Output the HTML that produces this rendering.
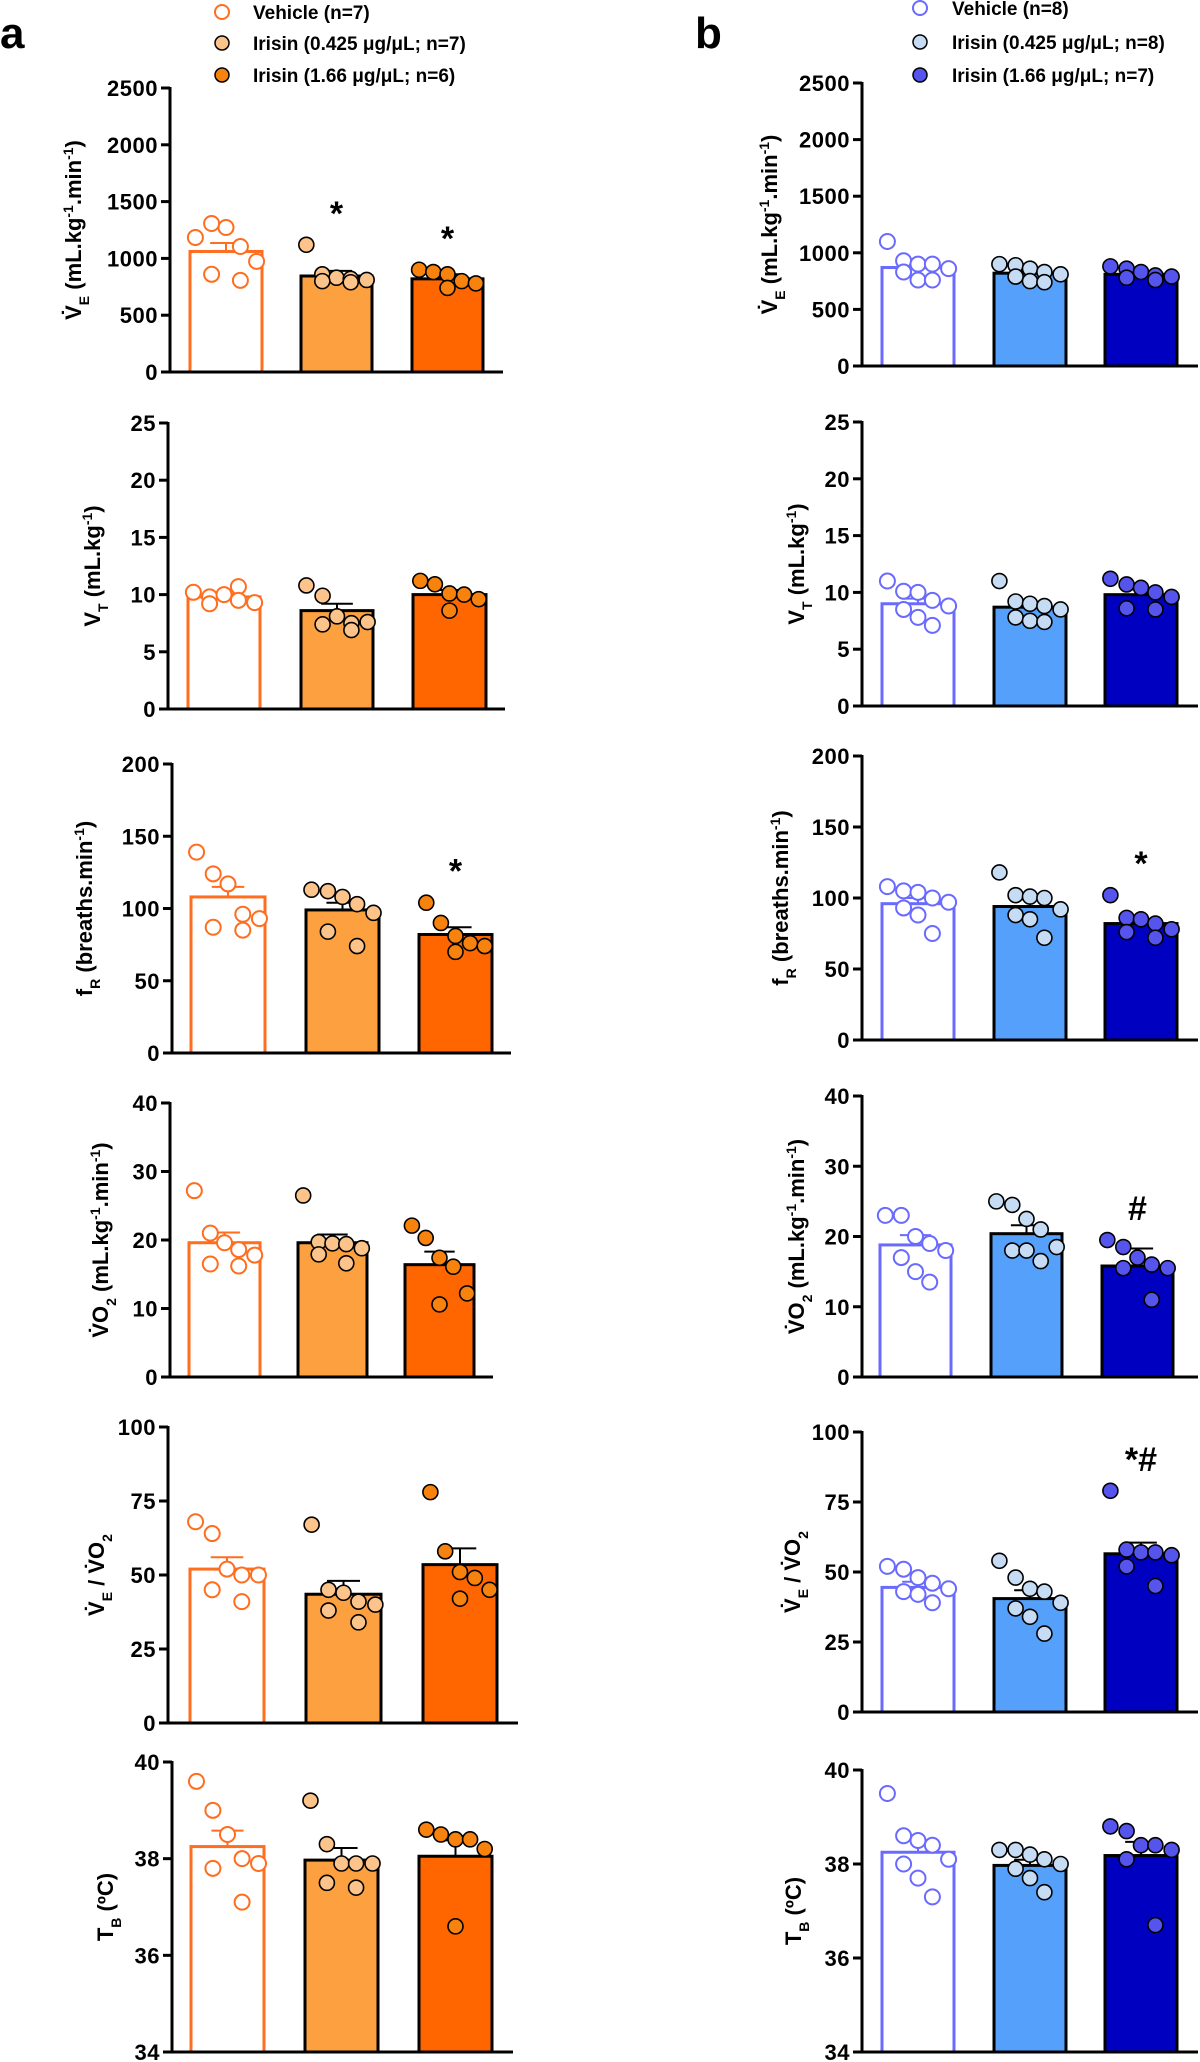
<!DOCTYPE html>
<html><head><meta charset="utf-8">
<style>
html,body{margin:0;padding:0;background:#fff;}
svg{display:block;font-family:"Liberation Sans",Arial,sans-serif;font-weight:bold;}
</style></head>
<body>
<svg id="fig" width="1200" height="2062" viewBox="0 0 1200 2062" xmlns="http://www.w3.org/2000/svg">
  <text x="0" y="48" font-size="44">a</text>
  <text x="695" y="48" font-size="44">b</text>
  <g>
    <g><circle cx="222" cy="12" r="7" fill="#fff" stroke="#ff6d1f" stroke-width="2"/><text x="253" y="19" font-size="19">Vehicle (n=7)</text></g>
    <g><circle cx="222" cy="43" r="7" fill="#fcc48a" stroke="#000" stroke-width="1.5"/><text x="253" y="50" font-size="19">Irisin (0.425 μg/μL; n=7)</text></g>
    <g><circle cx="222" cy="75" r="7" fill="#f7820e" stroke="#000" stroke-width="1.5"/><text x="253" y="82" font-size="19">Irisin (1.66 μg/μL; n=6)</text></g>
  </g>
  <g>
    <g><circle cx="920" cy="8" r="7" fill="#fff" stroke="#6a6aff" stroke-width="2"/><text x="952" y="15" font-size="19">Vehicle (n=8)</text></g>
    <g><circle cx="920" cy="42" r="7" fill="#c6dcf4" stroke="#000" stroke-width="1.5"/><text x="952" y="49" font-size="19">Irisin (0.425 μg/μL; n=8)</text></g>
    <g><circle cx="920" cy="75" r="7" fill="#5555ee" stroke="#000" stroke-width="1.5"/><text x="952" y="82" font-size="19">Irisin (1.66 μg/μL; n=7)</text></g>
  </g>
</svg>
<script>
// ---------- DATA ----------
const categories = ["Vehicle", "Irisin 0.425", "Irisin 1.66"];
// Panel a (orange)
const veA_means = [1061, 845, 820];
const veA_sems = [75, 45, 40];
const veA_points = [[1184,1307,1272,1105,974,860,807],[1120,860,830,820,810,800,790],[900,880,860,800,780,740]];
const veA_marks = ["", "*", "*"];
const vtA_means = [9.8, 8.6, 10.0];
const vtA_sems = [0.25, 0.6, 0.4];
const vtA_points = [[10.2,9.8,10.0,10.7,9.3,9.2,9.5],[10.8,9.9,8.1,7.5,7.6,7.4,6.9],[11.2,10.9,10.1,10.0,9.6,8.6]];
const vtA_marks = ["", "", ""];
const frA_means = [108, 99, 82];
const frA_sems = [7, 5, 5];
const frA_points = [[139,124,117,96,93,87,85],[113,112,108,103,97,84,74],[104,90,81,76,74,70]];
const frA_marks = ["", "", "*"];
const vo2A_means = [19.6, 19.6, 16.4];
const vo2A_sems = [1.5, 1.2, 1.9];
const vo2A_points = [[27.2,21,19.6,18.6,17.8,16.5,16.2],[26.5,19.7,19.5,19.4,18.8,17.9,16.6],[22.1,20.3,17.4,16.1,12.2,10.6]];
const vo2A_marks = ["", "", ""];
const ratioA_means = [52, 43.5, 53.5];
const ratioA_sems = [4, 4.5, 5.5];
const ratioA_points = [[68,64,52,50,50,45,41],[67,45,44,41,40,38,34],[78,58,51,49,45,42]];
const ratioA_marks = ["", "", ""];
const tbA_means = [38.25, 37.97, 38.05];
const tbA_sems = [0.33, 0.25, 0.33];
const tbA_points = [[39.6,39.0,38.5,38.0,37.9,37.8,37.1],[39.2,38.3,37.9,37.9,37.9,37.5,37.4],[38.6,38.5,38.4,38.4,38.2,36.6]];
const tbA_marks = ["", "", ""];
// Panel b (blue)
const veB_means = [870, 820, 810];
const veB_sems = [25, 20, 20];
const veB_points = [[1100,930,900,900,860,830,760,760],[900,890,860,830,810,790,750,740],[880,860,830,800,790,780,760]];
const veB_marks = ["", "", ""];
const vtB_means = [9.0, 8.7, 9.8];
const vtB_sems = [0.45, 0.35, 0.45];
const vtB_points = [[11.0,10.1,10.0,9.3,8.8,8.5,7.8,7.1],[11.0,9.2,9.0,8.8,8.5,7.8,7.5,7.4],[11.2,10.7,10.4,10.0,9.6,8.6,8.5]];
const vtB_marks = ["", "", ""];
const frB_means = [96, 94, 82];
const frB_sems = [4, 5, 3];
const frB_points = [[108,105,104,100,97,93,88,75],[118,102,101,100,92,88,85,72],[102,86,85,82,78,76,72]];
const frB_marks = ["", "", "*"];
const vo2B_means = [18.8, 20.4, 15.8];
const vo2B_sems = [1.4, 1.2, 2.5];
const vo2B_points = [[23,23,20,19,18,17,15,13.5],[25,24.5,22.5,21,18.5,18,18,16.5],[19.5,18.5,17,16,15.5,15.5,11]];
const vo2B_marks = ["", "", "#"];
const ratioB_means = [44.5, 40.5, 56.5];
const ratioB_sems = [2, 3, 4];
const ratioB_points = [[52,51,48,46,44,43,42,39],[54,48,44,43,39,37,34,28],[79,58,57,57,56,52,45]];
const ratioB_marks = ["", "", "*#"];
const tbB_means = [38.25, 37.97, 38.18];
const tbB_sems = [0.25, 0.12, 0.29];
const tbB_points = [[39.5,38.6,38.5,38.4,38.1,38.0,37.7,37.3],[38.3,38.3,38.2,38.1,38.0,37.9,37.7,37.4],[38.8,38.7,38.4,38.4,38.3,38.1,36.7]];
const tbB_marks = ["", "", ""];
// Axis ticks
const veTicks = [0,500,1000,1500,2000,2500];
const vtTicks = [0,5,10,15,20,25];
const frTicks = [0,50,100,150,200];
const vo2Ticks = [0,10,20,30,40];
const ratioTicks = [0,25,50,75,100];
const tbTicks = [34,36,38,40];

// ---------- STYLE / LAYOUT ----------
const NS = "http://www.w3.org/2000/svg";
const svg = document.getElementById("fig");
const orange = {barFill:["#fff","#fca040","#ff6600"], barStroke:["#ff6d1f","#000","#000"], ptFill:["#fff","#fcc48a","#f7820e"], ptStroke:["#ff6d1f","#000","#000"], err:["#ff6d1f","#000","#000"]};
const blue = {barFill:["#fff","#55a0fa","#0000c0"], barStroke:["#6a6aff","#000","#000"], ptFill:["#fff","#c6dcf4","#5555ee"], ptStroke:["#6a6aff","#000","#000"], err:["#6a6aff","#000","#000"]};
const jitter = [[0],[-0.4,0.4],[-0.6,0,0.6],[-0.8,-0.3,0.3,0.8],[-0.8,-0.4,0,0.4,0.8],[-0.8,-0.4,0,0.4,0.8,0],
  [-0.85,-0.4,0,0.4,0.85,-0.4,0.4],[-0.85,-0.4,0,0.4,0.85,-0.4,0,0.4]];

function el(tag, attrs, parent){const e=document.createElementNS(NS,tag);for(const k in attrs)e.setAttribute(k,attrs[k]);(parent||svg).appendChild(e);return e;}

const panels = [
 {id:"ve-a", means:veA_means, sems:veA_sems, pts:veA_points, marks:veA_marks, ticks:veTicks, pal:orange, ax:170, bars:[[190,262],[301,372],[412,483]], end:503, yTop:88, yBot:372, title:"ve", tOff:97},
 {id:"vt-a", means:vtA_means, sems:vtA_sems, pts:vtA_points, marks:vtA_marks, ticks:vtTicks, pal:orange, ax:168, bars:[[188,260],[301,373],[413,486]], end:505, yTop:423, yBot:709, title:"vt", tOff:76},
 {id:"fr-a", means:frA_means, sems:frA_sems, pts:frA_points, marks:frA_marks, ticks:frTicks, pal:orange, ax:172, bars:[[191,265],[306,379],[419,492]], end:511, yTop:764, yBot:1053, title:"fr", tOff:88},
 {id:"vo2-a", means:vo2A_means, sems:vo2A_sems, pts:vo2A_points, marks:vo2A_marks, ticks:vo2Ticks, pal:orange, ax:170, bars:[[189,260],[298,367],[405,474]], end:493, yTop:1103, yBot:1377, title:"vo2", tOff:70},
 {id:"ratio-a", means:ratioA_means, sems:ratioA_sems, pts:ratioA_points, marks:ratioA_marks, ticks:ratioTicks, pal:orange, ax:168, bars:[[190,264],[306,381],[423,497]], end:518, yTop:1427, yBot:1723, title:"ratio", tOff:72},
 {id:"tb-a", means:tbA_means, sems:tbA_sems, pts:tbA_points, marks:tbA_marks, ticks:tbTicks, pal:orange, ax:172, bars:[[191,264],[305,378],[419,492]], end:513, yTop:1762, yBot:2052, title:"tb", tOff:67},
 {id:"ve-b", means:veB_means, sems:veB_sems, pts:veB_points, marks:veB_marks, ticks:veTicks, pal:blue, ax:862, bars:[[882,954],[994,1066],[1105,1177]], end:1198, yTop:83, yBot:366, title:"ve", tOff:93},
 {id:"vt-b", means:vtB_means, sems:vtB_sems, pts:vtB_points, marks:vtB_marks, ticks:vtTicks, pal:blue, ax:862, bars:[[882,954],[994,1066],[1105,1177]], end:1198, yTop:422, yBot:706, title:"vt", tOff:66},
 {id:"fr-b", means:frB_means, sems:frB_sems, pts:frB_points, marks:frB_marks, ticks:frTicks, pal:blue, ax:862, bars:[[882,954],[994,1066],[1105,1177]], end:1198, yTop:756, yBot:1040, title:"fr", tOff:82},
 {id:"vo2-b", means:vo2B_means, sems:vo2B_sems, pts:vo2B_points, marks:vo2B_marks, ticks:vo2Ticks, pal:blue, ax:862, bars:[[880,951],[991,1062],[1102,1173]], end:1198, yTop:1096, yBot:1377, title:"vo2", tOff:66},
 {id:"ratio-b", means:ratioB_means, sems:ratioB_sems, pts:ratioB_points, marks:ratioB_marks, ticks:ratioTicks, pal:blue, ax:862, bars:[[882,954],[994,1066],[1105,1177]], end:1198, yTop:1432, yBot:1712, title:"ratio", tOff:70},
 {id:"tb-b", means:tbB_means, sems:tbB_sems, pts:tbB_points, marks:tbB_marks, ticks:tbTicks, pal:blue, ax:862, bars:[[882,954],[994,1066],[1105,1177]], end:1198, yTop:1770, yBot:2052, title:"tb", tOff:69}
];

function addTitle(g, kind, x, y){
  const t = el("text",{x:x,y:y,"font-size":"22","text-anchor":"middle",transform:`rotate(-90 ${x} ${y})`},g);
  
  
  const parts = {
    ve:[["V̇",0],["E",-1],[" (mL.kg",0],["-1",1],[".min",0],["-1",1],[")",0]],
    vt:[["V",0],["T",-1],[" (mL.kg",0],["-1",1],[")",0]],
    fr:[["f",0],["R",-1],[" (breaths.min",0],["-1",1],[")",0]],
    vo2:[["V̇O",0],["2",-1],[" (mL.kg",0],["-1",1],[".min",0],["-1",1],[")",0]],
    ratio:[["V̇",0],["E",-1],[" / V̇O",0],["2",-1]],
    tb:[["T",0],["B",-1],[" (ºC)",0]]
  }[kind];
  for(const [s,sh] of parts){
    const sp = el("tspan",{},t);
    sp.textContent = s;
    if(sh!==0){sp.setAttribute("font-size","14");sp.setAttribute("baseline-shift",sh>0?"super":"sub");}
  }
}

for(const p of panels){
  const g = el("g",{});
  
  
  const lo = p.ticks[0], hi = p.ticks[p.ticks.length-1];
  const y = v => p.yBot - (v-lo)/(hi-lo)*(p.yBot-p.yTop);
  p.means.forEach((m,i)=>{
    const [x0,x1] = p.bars[i];
    const b = el("rect",{x:x0,y:y(m),width:x1-x0,height:p.yBot-y(m),fill:p.pal.barFill[i],stroke:p.pal.barStroke[i],"stroke-width":3},g);
    
    
    const cx=(x0+x1)/2, w=(x1-x0)*0.22;
    const eb = el("path",{d:`M${cx},${y(m)} V${y(m+p.sems[i])} M${cx-w},${y(m+p.sems[i])} H${cx+w}`,stroke:p.pal.err[i],"stroke-width":2,fill:"none"},g);
    
    
  });
  p.pts.forEach((arr,i)=>{
    const [x0,x1] = p.bars[i]; const cx=(x0+x1)/2, hw=(x1-x0)/2;
    const jj = jitter[Math.min(arr.length,8)-1];
    arr.forEach((v,k)=>{
      const c = el("circle",{cx:cx+jj[k%jj.length]*hw,cy:y(v),r:7.5,fill:p.pal.ptFill[i],stroke:p.pal.ptStroke[i],"stroke-width":i===0?2:1.6},g);
      
      
    });
    if(p.marks[i]){
      const top = Math.max(...arr, p.means[i]+p.sems[i]);
      const t = el("text",{x:cx,y:y(top)-20,"font-size":"34","text-anchor":"middle"},g);
      t.textContent = p.marks[i];
      
      
    }
  });
  const ya = el("line",{x1:p.ax,y1:p.yTop-1,x2:p.ax,y2:p.yBot,stroke:"#000","stroke-width":3},g);
  
  
  const xa = el("line",{x1:p.ax-1.5,y1:p.yBot,x2:p.end,y2:p.yBot,stroke:"#000","stroke-width":3},g);
  
  
  p.ticks.forEach(tv=>{
    el("line",{x1:p.ax-9,y1:y(tv),x2:p.ax,y2:y(tv),stroke:"#000","stroke-width":3},g);
    const t = el("text",{x:p.ax-12,y:y(tv)+8,"font-size":"22","text-anchor":"end","letter-spacing":"0.5"},g);
    t.textContent = tv;
    
    
  });
  addTitle(g, p.title, p.ax - p.tOff + 8, (p.yTop+p.yBot)/2);
}
</script>
</body></html>
